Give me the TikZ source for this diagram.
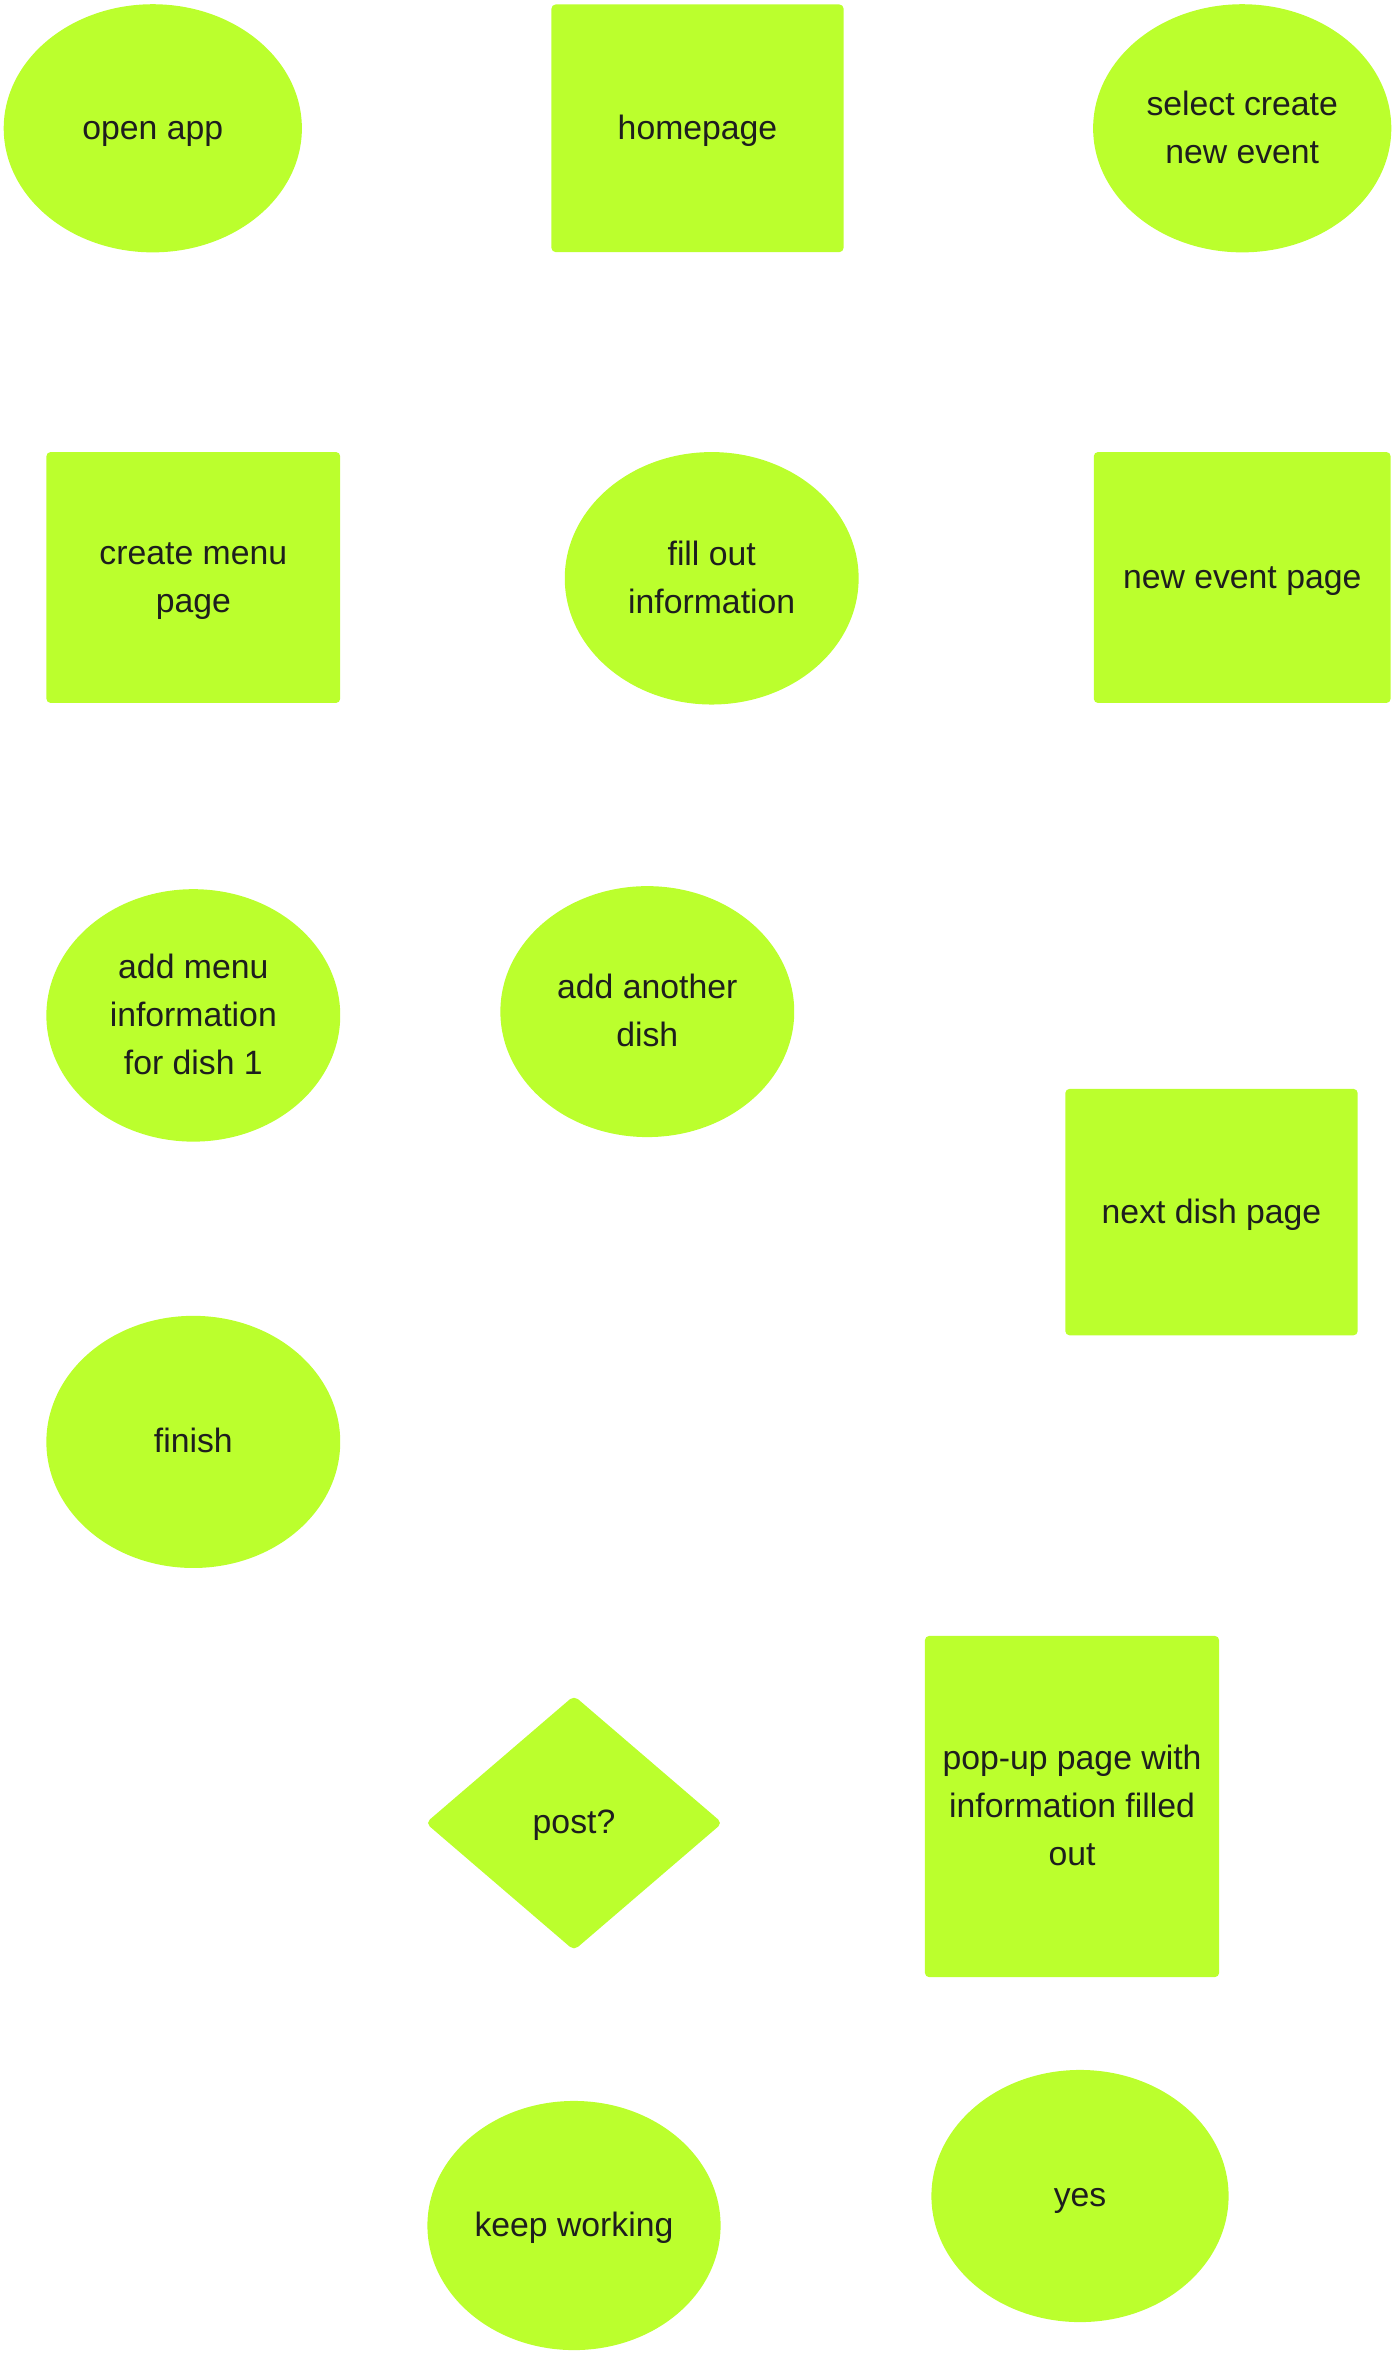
\documentclass[tikz,border=0pt]{standalone}
\usepackage{fontspec}
\setmainfont{Liberation Sans}
\usetikzlibrary{shapes.geometric}
\definecolor{lime}{HTML}{BBFF2D}
\definecolor{ink}{HTML}{1E1E1E}
\newcommand{\lnA}{\rule{0pt}{9.9pt}}
\newcommand{\lnZ}{\rule[-3.7pt]{0pt}{3.7pt}}
\tikzset{
  every node/.style={font=\fontsize{9.6}{13.6}\selectfont, text=ink, align=center, inner sep=0pt},
  ellbox/.style={ellipse, fill=lime},
  rectbox/.style={rectangle, fill=lime, rounded corners=1.2pt},
  diabox/.style={diamond, fill=lime, rounded corners=1.5pt}
}
\begin{document}
\begin{tikzpicture}[x=0.01cm, y=-0.01cm]
\useasboundingbox (0,0) rectangle (1398,2355);
% row 1
\node[ellbox, minimum width=2.98cm, minimum height=2.48cm] (openapp) at (152.8,128.3) {\lnA open app\lnZ};
\node[rectbox, minimum width=2.92cm, minimum height=2.475cm] (home) at (697.5,128.3) {\lnA homepage\lnZ};
\node[ellbox, minimum width=2.98cm, minimum height=2.48cm] (select) at (1242.2,128.3) {\lnA select create\\new event\lnZ};
% row 2
\node[rectbox, minimum width=2.936cm, minimum height=2.508cm] (createmenu) at (193.3,577.5) {\lnA create menu\\page\lnZ};
\node[ellbox, minimum width=2.937cm, minimum height=2.523cm] (fillout) at (711.7,578.3) {\lnA fill out\\information\lnZ};
\node[rectbox, minimum width=2.967cm, minimum height=2.508cm] (newevent) at (1242.2,577.5) {\lnA new event page\lnZ};
% row 3
\node[ellbox, minimum width=2.937cm, minimum height=2.523cm] (addmenu) at (193.3,1015.4) {\lnA add menu\\information\\for dish 1\lnZ};
\node[ellbox, minimum width=2.937cm, minimum height=2.508cm] (another) at (647.3,1011.6) {\lnA add another\\dish\lnZ};
\node[rectbox, minimum width=2.922cm, minimum height=2.463cm] (nextdish) at (1211.5,1212.1) {\lnA next dish page\lnZ};
% row 4
\node[ellbox, minimum width=2.937cm, minimum height=2.52cm] (finish) at (193.3,1441.9) {\lnA finish\lnZ};
% row 5
\node[diabox, minimum width=2.97cm, minimum height=2.55cm] (post) at (574,1823) {\lnA post?\lnZ};
\node[rectbox, minimum width=2.94cm, minimum height=3.41cm] (popup) at (1072,1806.5) {\lnA pop-up page with\\information filled\\out\lnZ};
% row 6
\node[ellbox, minimum width=2.93cm, minimum height=2.49cm] (keep) at (574,2225.5) {\lnA keep working\lnZ};
\node[ellbox, minimum width=2.97cm, minimum height=2.52cm] (yes) at (1080,2196) {\lnA yes\lnZ};
\end{tikzpicture}
\end{document}
